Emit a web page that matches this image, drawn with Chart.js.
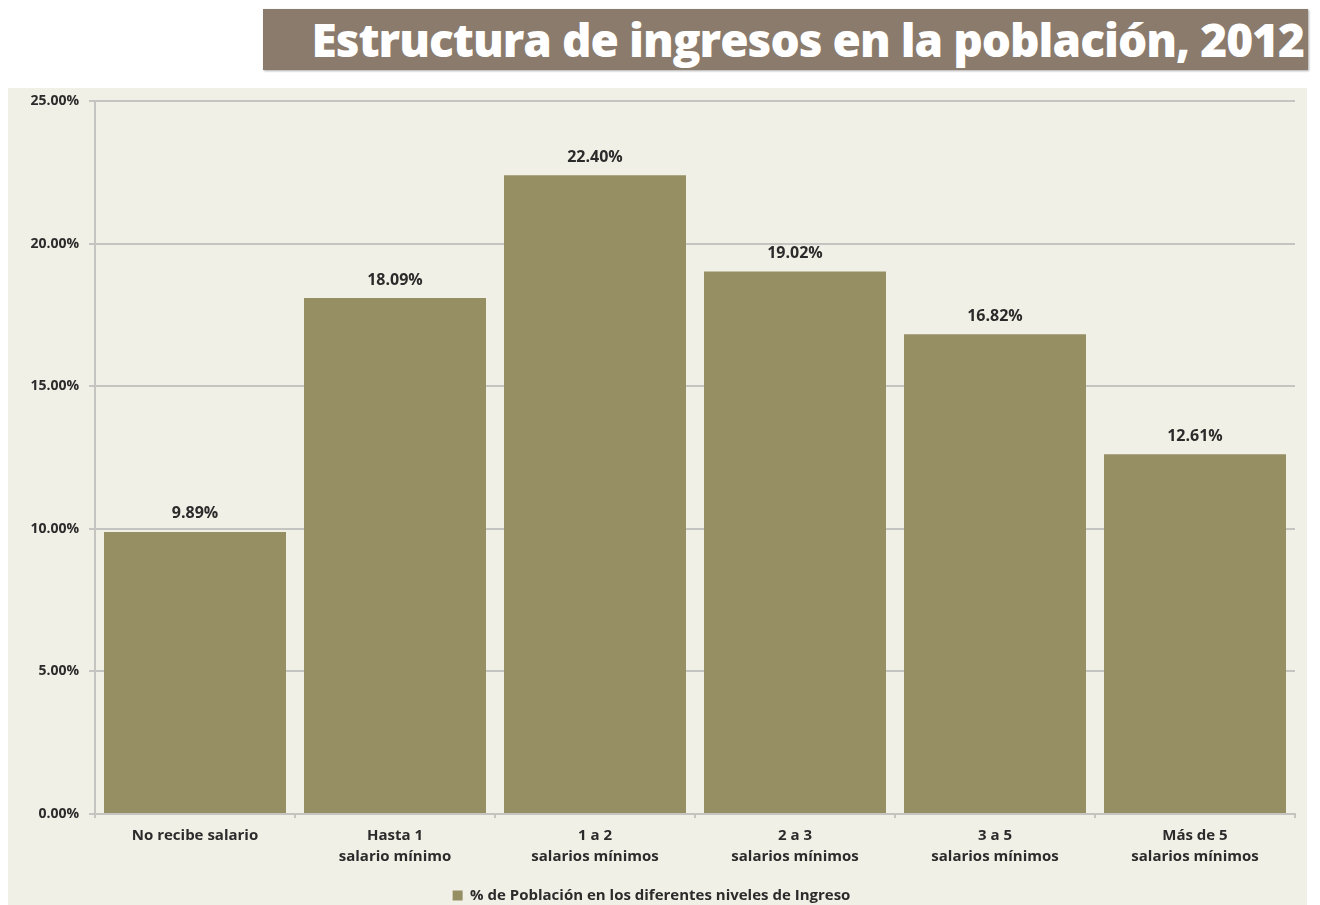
<!DOCTYPE html>
<html lang="es">
  <head>
    <meta charset="UTF-8">
    <title>Estructura de ingresos</title>
    <script src="https://cdn.jsdelivr.net/npm/chart.js"></script>
    <style>
      body { margin: 0; background: #fff; width: 1320px; height: 905px; position: relative; overflow: hidden; }
      #title {
        position: absolute; left: 263px; top: 9px; width: 1045px; height: 61px;
        background: #8b7b6c; color: #fff; font-family: "Open Sans", sans-serif; font-weight: 800;
        font-size: 46px; line-height: 60px; text-align: right; box-sizing: border-box; padding-right: 4px;
        letter-spacing: -1px; box-shadow: 1px 1px 2px #aaa; white-space: nowrap;
      }
      /* box runs a little past the bottom edge, as in the cropped original */
      #chartBox { position: absolute; left: 8px; top: 88px; width: 1299px; height: 825px; background: #f1f0e6; }
    </style>
  </head>
  <body>
    <div id="title">Estructura de ingresos en la población, 2012</div>
    <div id="chartBox"><canvas id="bars"></canvas></div>
    <script>
      const categories = [
        "No recibe salario",
        ["Hasta 1", "salario mínimo"],
        ["1 a 2", "salarios mínimos"],
        ["2 a 3", "salarios mínimos"],
        ["3 a 5", "salarios mínimos"],
        ["Más de 5", "salarios mínimos"]
      ];
      const percentages = [9.89, 18.09, 22.40, 19.02, 16.82, 12.61];
      const seriesName = "% de Población en los diferentes niveles de Ingreso";

      const barColor = "#968f64";
      const textColor = "#2b2b2b";

      // prints the value above every bar
      const valueLabels = {
        id: "valueLabels",
        afterDatasetsDraw(chart) {
          const ctx = chart.ctx;
          const meta = chart.getDatasetMeta(0);
          ctx.save();
          ctx.font = "bold 16px 'Open Sans'";
          ctx.fillStyle = textColor;
          ctx.textAlign = "center";
          ctx.textBaseline = "middle";
          meta.data.forEach((bar, i) => {
            ctx.fillText(percentages[i].toFixed(2) + "%", bar.x, bar.y - 18);
          });
          ctx.restore();
        }
      };

      new Chart(document.getElementById("bars"), {
        type: "bar",
        data: {
          labels: categories,
          datasets: [{
            label: seriesName,
            data: percentages,
            backgroundColor: barColor,
            barPercentage: 0.91,
            categoryPercentage: 1
          }]
        },
        options: {
          responsive: true,
          maintainAspectRatio: false,
          animation: false,
          layout: { padding: { top: 13, right: 12, left: 0, bottom: 0 } },
          plugins: {
            tooltip: { enabled: false },
            legend: {
              position: "bottom",
              labels: {
                color: textColor,
                font: { family: "Open Sans", weight: "bold", size: 15 },
                boxWidth: 10,
                boxHeight: 10,
                padding: 4
              }
            }
          },
          scales: {
            x: {
              grid: { display: true, drawOnChartArea: false, color: "#c4c4c0", lineWidth: 2, tickLength: 4, offset: true },
              border: { color: "#c4c4c0", width: 2 },
              ticks: {
                color: textColor,
                font: { family: "Open Sans", weight: "bold", size: 15, lineHeight: 1.4 },
                padding: 7,
                maxRotation: 0
              },
              afterFit(scale) { scale.height = 70; }
            },
            y: {
              min: 0,
              max: 25,
              ticks: {
                stepSize: 5,
                color: textColor,
                font: { family: "Open Sans", weight: "bold", size: 14 },
                padding: 10,
                callback: v => v.toFixed(2) + "%"
              },
              grid: { color: "#c4c4c0", lineWidth: 2, tickLength: 6 },
              border: { color: "#c4c4c0", width: 2 },
              afterFit(scale) {
                scale.width = 87;
                scale.paddingTop = 0;
              }
            }
          }
        },
        plugins: [valueLabels]
      });
    </script>
  </body>
</html>
